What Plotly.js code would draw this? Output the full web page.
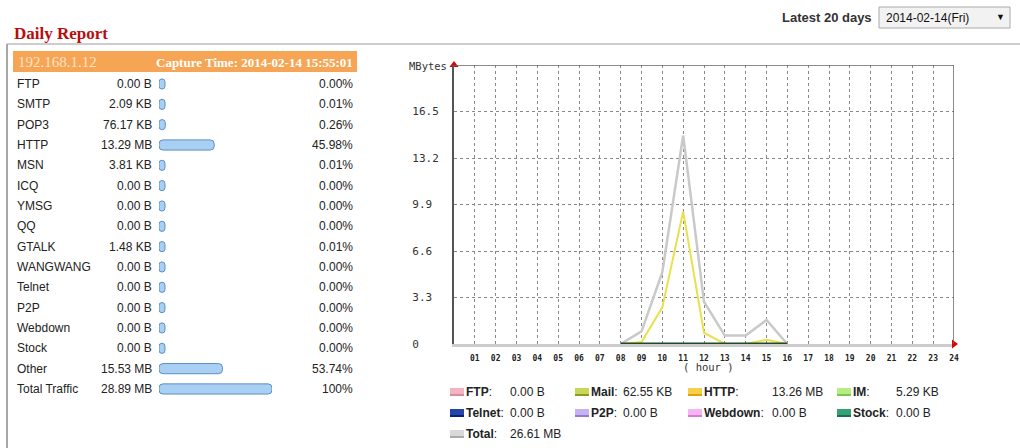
<!DOCTYPE html>
<html><head><meta charset="utf-8">
<script src="https://cdn.plot.ly/plotly-3.0.1.min.js"></script>
<style>html,body{margin:0;padding:0;background:#fff;}#chart{width:1020px;height:448px;}</style>
</head><body><div id="chart"></div>
<script>
// ---- hourly chart data (MBytes) ----
const hours = [8, 9, 10, 11, 12, 13, 14, 15, 16];
const totalMB = [0, 0.9, 5.1, 14.8, 3.0, 0.6, 0.6, 1.7, 0];
const httpMB = [0, 0.14, 2.6, 9.4, 0.8, 0, 0, 0.3, 0];
const ftpMB = [0, 0, 0, 0, 0, 0, 0, 0, 0];
const mailMB = [0, 0, 0, 0, 0, 0, 0, 0, 0];
const imMB = [0, 0, 0, 0, 0, 0, 0, 0, 0];
const telnetMB = [0, 0, 0, 0, 0, 0, 0, 0, 0];
const p2pMB = [0, 0, 0, 0, 0, 0, 0, 0, 0];
const webdownMB = [0, 0, 0, 0, 0, 0, 0, 0, 0];
const stockMB = [0, 0, 0, 0, 0, 0, 0, 0, 0];
const hourTickVals = [1,2,3,4,5,6,7,8,9,10,11,12,13,14,15,16,17,18,19,20,21,22,23,24];
const hourTickText = ['01','02','03','04','05','06','07','08','09','10','11','12','13','14','15','16','17','18','19','20','21','22','23','24'];
const yTickVals = [0, 3.3, 6.6, 9.9, 13.2, 16.5];
const yTickText = ['0', '3.3', '6.6', '9.9', '13.2', '16.5'];
const yMax = 19.8;
const xMax = 24;

// ---- daily report table ----
const protocols = ['FTP','SMTP','POP3','HTTP','MSN','ICQ','YMSG','QQ','GTALK','WANGWANG','Telnet','P2P','Webdown','Stock','Other','Total Traffic'];
const sizes = ['0.00 B','2.09 KB','76.17 KB','13.29 MB','3.81 KB','0.00 B','0.00 B','0.00 B','1.48 KB','0.00 B','0.00 B','0.00 B','0.00 B','0.00 B','15.53 MB','28.89 MB'];
const percents = [0, 0.01, 0.26, 45.98, 0.01, 0, 0, 0, 0.01, 0, 0, 0, 0, 0, 53.74, 100];
const percentLabels = ['0.00%','0.01%','0.26%','45.98%','0.01%','0.00%','0.00%','0.00%','0.01%','0.00%','0.00%','0.00%','0.00%','0.00%','53.74%','100%'];

// ---- legend ----
const legendNames = ['FTP','Mail','HTTP','IM','Telnet','P2P','Webdown','Stock','Total'];
const legendValues = ['0.00 B','62.55 KB','13.26 MB','5.29 KB','0.00 B','0.00 B','0.00 B','0.00 B','26.61 MB'];
const legendFill = ['#f4b3c2','#c9d65a','#f7cf4a','#b7ec84','#2445a8','#c6b2f0','#f6b4f2','#34a277','#d9d9d9'];
const legendEdge = ['#d98c9c','#8f9c18','#e0a400','#7cc84a','#0a1f7a','#9577d8','#da7ad6','#137050','#aaaaaa'];

const W = 1020, H = 448;
const px = v => v / W;
const py = v => 1 - v / H;
const sans = 'Liberation Sans, Arial, sans-serif';
const serif = 'Liberation Serif, Times New Roman, serif';
const mono = 'DejaVu Sans Mono, monospace';

const lineSeries = [
  {name: 'Total', y: totalMB, color: '#c9c9c9', width: 2.5},
  {name: 'HTTP', y: httpMB, color: '#e9e04e', width: 2},
  {name: 'FTP', y: ftpMB, color: '#f4b3c2', width: 2},
  {name: 'Mail', y: mailMB, color: '#c9d65a', width: 2},
  {name: 'IM', y: imMB, color: '#b7ec84', width: 2},
  {name: 'Telnet', y: telnetMB, color: '#2445a8', width: 2},
  {name: 'P2P', y: p2pMB, color: '#c6b2f0', width: 2},
  {name: 'Webdown', y: webdownMB, color: '#f6b4f2', width: 2},
  {name: 'Stock', y: stockMB, color: '#1f4a27', width: 3}
];

const traces = lineSeries.map(s => ({
  type: 'scatter', mode: 'lines', x: hours, y: s.y, name: s.name,
  line: {color: s.color, width: s.width}, xaxis: 'x', yaxis: 'y',
  cliponaxis: false, hoverinfo: 'skip'
}));

traces.push({
  type: 'scatter', mode: 'markers', x: [0, xMax], y: [yMax, 0],
  marker: {symbol: ['triangle-up', 'triangle-right'], color: '#e00000', size: 8},
  cliponaxis: false, xaxis: 'x', yaxis: 'y', hoverinfo: 'skip'
});

// pill bars: every bar keeps a small minimum length (MIN_PCT) in front of its share
const MIN_PCT = 5.6;
traces.push({
  type: 'bar', orientation: 'h', y: protocols, x: percents.map(p => p + MIN_PCT), base: -MIN_PCT,
  width: 0.5,
  marker: {color: '#a9cff3', line: {color: '#5d8fc6', width: 1}, cornerradius: 4},
  xaxis: 'x2', yaxis: 'y2', hoverinfo: 'skip'
});

const rowTop = 84, rowStep = 20.33;
const nRows = protocols.length;

const shapes = [
  // outer box
  {type: 'line', xref: 'paper', yref: 'paper', x0: px(7), x1: px(1020), y0: py(44), y1: py(44), line: {color: '#9a9a9a', width: 1}},
  {type: 'line', xref: 'paper', yref: 'paper', x0: px(7), x1: px(7), y0: py(44), y1: py(448), line: {color: '#a8a8a8', width: 2}},
  // header bar
  {type: 'rect', xref: 'paper', yref: 'paper', x0: px(13), x1: px(357), y0: py(72), y1: py(51), fillcolor: '#f6a554', line: {width: 0}},
  // dropdown
  {type: 'rect', xref: 'paper', yref: 'paper', x0: px(879), x1: px(1010), y0: py(28), y1: py(7), fillcolor: '#f2f2f2', line: {color: '#a9a9a9', width: 1}},
  // plot top & right borders
  {type: 'line', xref: 'x', yref: 'y', x0: 0, x1: xMax, y0: yMax, y1: yMax, line: {color: '#666', width: 1.5}},
  {type: 'line', xref: 'x', yref: 'y', x0: xMax, x1: xMax, y0: 0, y1: yMax, line: {color: '#666', width: 1.5}}
];

const annotations = [
  {text: '<b>Daily Report</b>', xref: 'paper', yref: 'paper', x: px(12), y: py(33), xanchor: 'left', yanchor: 'middle', showarrow: false, font: {family: serif, size: 17, color: '#b80d0d'}},
  {text: '192.168.1.12', xref: 'paper', yref: 'paper', x: px(16), y: py(62), xanchor: 'left', yanchor: 'middle', showarrow: false, font: {family: serif, size: 15, color: '#fde2c6'}},
  {text: '<b>Capture Time: 2014-02-14 15:55:01</b>', xref: 'paper', yref: 'paper', x: px(355), y: py(62), xanchor: 'right', yanchor: 'middle', showarrow: false, font: {family: serif, size: 13, color: '#ffffff'}},
  {text: '<b>Latest 20 days</b>', xref: 'paper', yref: 'paper', x: px(874), y: py(17), xanchor: 'right', yanchor: 'middle', showarrow: false, font: {family: sans, size: 13, color: '#333'}},
  {text: '2014-02-14(Fri)', xref: 'paper', yref: 'paper', x: px(884), y: py(17.5), xanchor: 'left', yanchor: 'middle', showarrow: false, font: {family: sans, size: 12, color: '#111'}},
  {text: '▼', xref: 'paper', yref: 'paper', x: px(1000), y: py(17), xanchor: 'center', yanchor: 'middle', showarrow: false, font: {family: sans, size: 9, color: '#111'}},
  {text: 'MBytes', xref: 'paper', yref: 'paper', x: px(449), y: py(66), xanchor: 'right', yanchor: 'middle', showarrow: false, font: {family: mono, size: 10.5, color: '#333'}},
  {text: '( hour )', xref: 'paper', yref: 'paper', x: px(708), y: py(367), xanchor: 'center', yanchor: 'middle', showarrow: false, font: {family: mono, size: 10.5, color: '#333'}}
];

protocols.forEach((p, i) => {
  annotations.push({text: p, xref: 'paper', yref: 'y2', x: px(15), y: p, xanchor: 'left', yanchor: 'middle', showarrow: false, font: {family: sans, size: 12, color: '#222'}});
  annotations.push({text: sizes[i], xref: 'paper', yref: 'y2', x: px(154), y: p, xanchor: 'right', yanchor: 'middle', showarrow: false, font: {family: sans, size: 12, color: '#222'}});
  annotations.push({text: percentLabels[i], xref: 'paper', yref: 'y2', x: px(355), y: p, xanchor: 'right', yanchor: 'middle', showarrow: false, font: {family: sans, size: 12, color: '#222'}});
});

const legIconX = [450, 575, 688, 837];
const legValX = [508, 621, 770, 894];
const legRowY = [392, 413, 434];
legendNames.forEach((n, i) => {
  const c = i % 4, r = Math.floor(i / 4);
  const x0 = legIconX[c], yc = legRowY[r];
  shapes.push({type: 'rect', xref: 'paper', yref: 'paper', x0: px(x0), x1: px(x0 + 14), y0: py(yc + 4), y1: py(yc - 4), fillcolor: legendFill[i], line: {width: 0}});
  shapes.push({type: 'line', xref: 'paper', yref: 'paper', x0: px(x0), x1: px(x0 + 14), y0: py(yc + 3), y1: py(yc + 3), line: {color: legendEdge[i], width: 2}});
  annotations.push({text: '<b>' + n + '</b>:', xref: 'paper', yref: 'paper', x: px(x0 + 14), y: py(yc), xanchor: 'left', yanchor: 'middle', showarrow: false, font: {family: sans, size: 12, color: '#222'}});
  annotations.push({text: legendValues[i], xref: 'paper', yref: 'paper', x: px(legValX[c]), y: py(yc), xanchor: 'left', yanchor: 'middle', showarrow: false, font: {family: sans, size: 12, color: '#222'}});
});

const padded = yTickText.map(s => s + '\u00a0'.repeat(4 - s.length));

const layout = {
  width: W, height: H, margin: {l: 0, r: 0, t: 0, b: 0},
  paper_bgcolor: '#fff', plot_bgcolor: 'rgba(0,0,0,0)', showlegend: false,
  xaxis: {domain: [px(454), px(954)], range: [0, xMax], tickvals: hourTickVals, ticktext: hourTickText,
    showgrid: true, gridcolor: '#888', griddash: 'dot', gridwidth: 1, zeroline: false,
    showline: true, linecolor: '#cdcdcd', linewidth: 3, ticks: '', ticklabelstandoff: 4,
    tickfont: {family: mono, size: 8, color: '#222', weight: 'bold'}, layer: 'below traces', anchor: 'y', fixedrange: true},
  yaxis: {domain: [py(344), py(65)], range: [0, yMax], tickvals: yTickVals, ticktext: padded,
    showgrid: true, gridcolor: '#888', griddash: 'dot', gridwidth: 1, zeroline: false,
    showline: true, linecolor: '#555', linewidth: 2, ticks: '', ticklabelstandoff: 11,
    tickfont: {family: mono, size: 11, color: '#333'}, anchor: 'x', fixedrange: true},
  xaxis2: {domain: [px(159), px(272)], range: [-MIN_PCT, 100], visible: false, anchor: 'y2', fixedrange: true},
  yaxis2: {domain: [py(rowTop + rowStep * (nRows - 0.5)), py(rowTop - rowStep * 0.5)], type: 'category',
    categoryarray: protocols, range: [nRows - 0.5, -0.5], visible: false, anchor: 'x2', fixedrange: true},
  shapes: shapes, annotations: annotations
};

Plotly.newPlot('chart', traces, layout, {staticPlot: true, displayModeBar: false});
</script>
</body></html>
